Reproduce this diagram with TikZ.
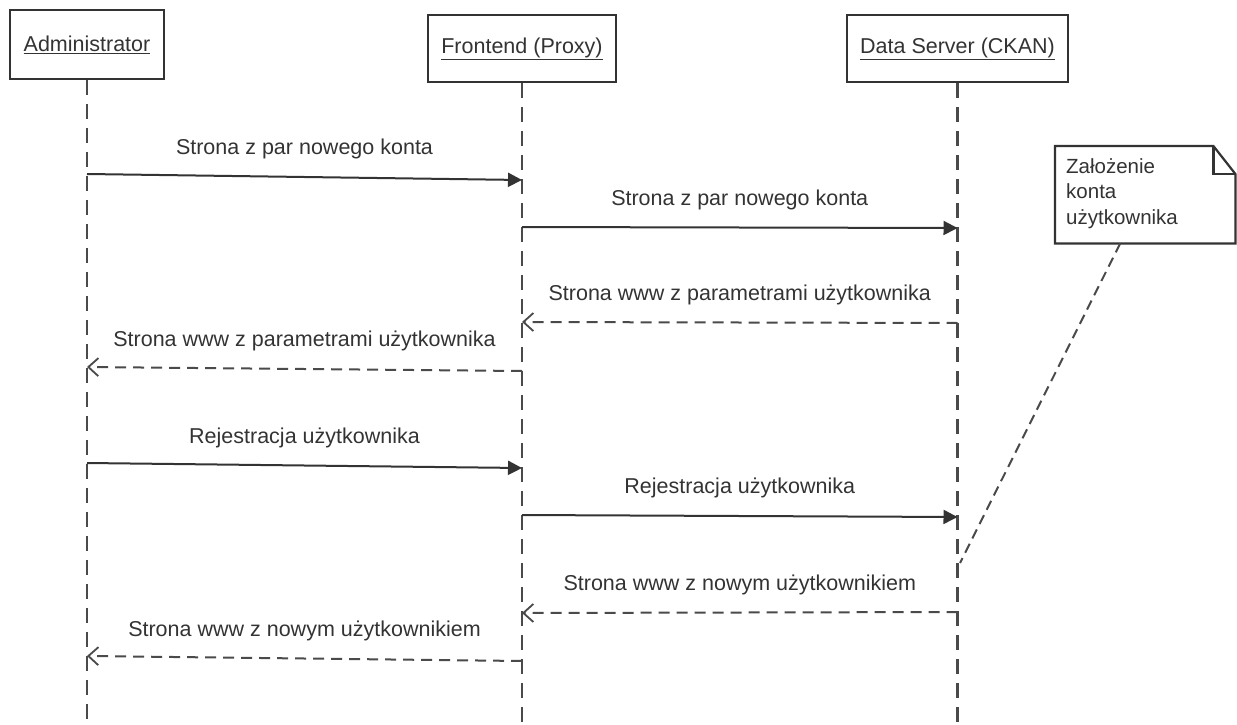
\documentclass[tikz,border=0pt]{standalone}
\usepackage{fontspec}
\setmainfont{Liberation Sans}
\usetikzlibrary{arrows.meta}
\definecolor{ink}{HTML}{333333}
\definecolor{edge}{HTML}{333333}
\definecolor{lane}{HTML}{4A4A4A}
\begin{document}
\begin{tikzpicture}[x=1pt,y=-1pt,
  every node/.style={text=ink, font=\fontsize{21.5}{25}\selectfont},
  actor/.style={draw=edge, line width=2.2pt, fill=white, inner sep=0pt},
  lifeline/.style={draw=lane, line width=2.2pt, dash pattern=on 15pt off 9pt},
  call/.style={draw=edge, line width=2pt, -{Triangle[length=14pt,width=14pt]}},
  reply/.style={draw=lane, line width=2pt, dash pattern=on 11pt off 7pt,
    -{Straight Barb[length=10pt,width=18pt,line width=1.8pt]}},
  msg/.style={midway, yshift=28pt, inner sep=0pt},
  memo/.style={draw=edge, line width=2.2pt, fill=white},
  memolink/.style={draw=lane, line width=2pt, dash pattern=on 10pt off 6pt},
]
\useasboundingbox (0,0) rectangle (1237,725);

% participants
\node[actor, minimum width=154pt, minimum height=69pt] (adm) at (87,44.5) {\underline{Administrator}};
\node[actor, minimum width=188pt, minimum height=67pt] (fe) at (522,48.5) {\underline{Frontend (Proxy)}};
\node[actor, minimum width=221pt, minimum height=67pt] (ds) at (957.5,48.5) {\underline{Data Server (CKAN)}};

% lifelines
\coordinate (admEnd) at (87,725);
\coordinate (feEnd) at (522,725);
\coordinate (dsEnd) at (957.5,725);
\draw[lifeline] (adm.south) -- (admEnd);
\draw[lifeline] (fe.south) -- (feEnd);
\draw[lifeline] (ds.south) -- (dsEnd);

% message end points on the lifelines
\coordinate (m1s) at (87,174);   \coordinate (m1e) at (522,180);
\coordinate (m2s) at (522,227);  \coordinate (m2e) at (957.5,228);
\coordinate (m3s) at (957.5,323);\coordinate (m3e) at (522,322);
\coordinate (m4s) at (522,371);  \coordinate (m4e) at (87,367);
\coordinate (m5s) at (87,463);   \coordinate (m5e) at (522,468);
\coordinate (m6s) at (522,515);  \coordinate (m6e) at (957.5,517);
\coordinate (m7s) at (957.5,612);\coordinate (m7e) at (522,613);
\coordinate (m8s) at (522,661);  \coordinate (m8e) at (87,656);

% messages
\draw[call]  (m1s) -- (m1e) node[msg] {Strona z par nowego konta};
\draw[call]  (m2s) -- (m2e) node[msg] {Strona z par nowego konta};
\draw[reply] (m3s) -- (m3e) node[msg] {Strona www z parametrami użytkownika};
\draw[reply] (m4s) -- (m4e) node[msg] {Strona www z parametrami użytkownika};
\draw[call]  (m5s) -- (m5e) node[msg] {Rejestracja użytkownika};
\draw[call]  (m6s) -- (m6e) node[msg] {Rejestracja użytkownika};
\draw[reply] (m7s) -- (m7e) node[msg] {Strona www z nowym użytkownikiem};
\draw[reply] (m8s) -- (m8e) node[msg] {Strona www z nowym użytkownikiem};

% note with folded corner
\node[minimum width=180pt, minimum height=97pt, inner sep=0pt, anchor=north west] (note) at (1055,146) {};
\draw[memo] (note.north west) -- ([xshift=-22pt]note.north east)
  -- ([yshift=-28pt]note.north east) -- (note.south east)
  -- (note.south west) -- cycle;
\draw[draw=edge, line width=2.2pt] ([xshift=-22pt]note.north east)
  -- ([xshift=-22pt,yshift=-28pt]note.north east) -- ([yshift=-28pt]note.north east);
\node[anchor=north west, inner sep=0pt, align=left,
  font=\fontsize{20.5}{25.5}\selectfont] (notetext) at (1066,158)
  {Założenie\\konta\\użytkownika};

% note attached to the data server lifeline
\coordinate (noteTarget) at (960,563);
\draw[memolink] ([xshift=-25pt]note.south) -- (noteTarget);
\end{tikzpicture}
\end{document}
